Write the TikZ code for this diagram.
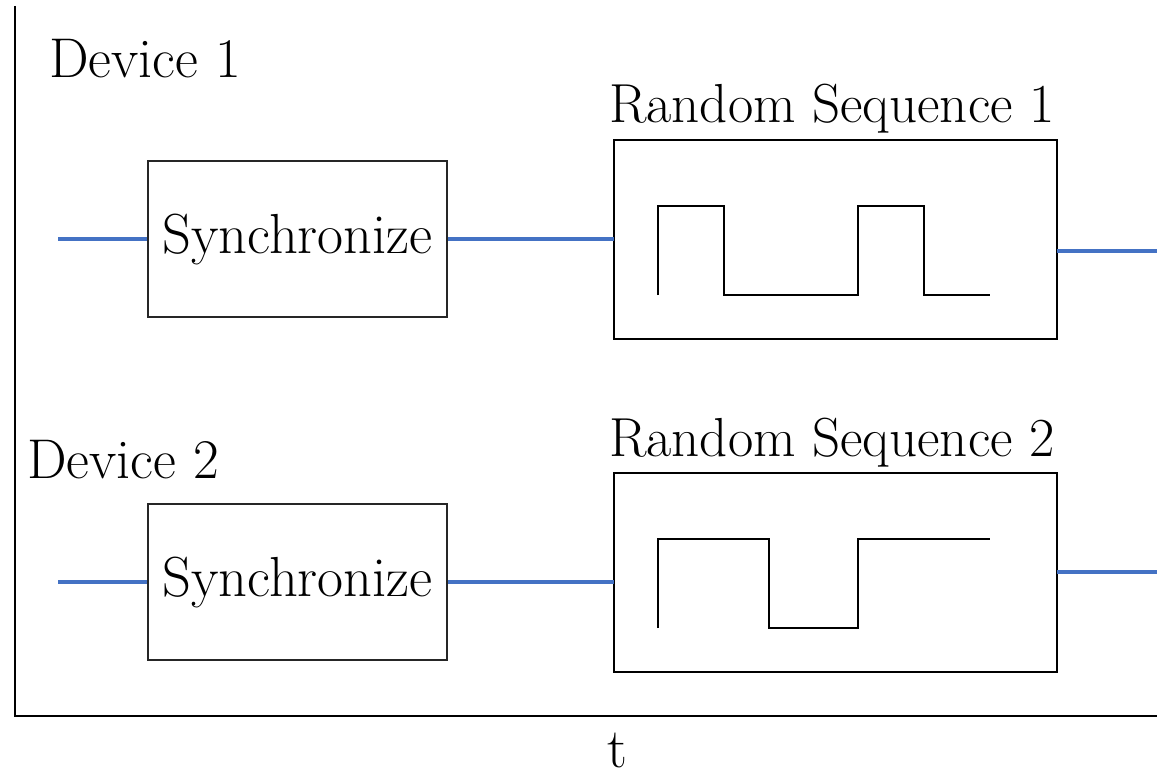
\documentclass[tikz,border=0pt]{standalone}
\usepackage{fontspec}
\begin{document}
\begin{tikzpicture}[x=1pt,y=-1pt,
  lbl/.style={inner sep=0pt,anchor=base west,font=\fontsize{56}{62}\selectfont},
  title/.style={lbl,font=\fontsize{55}{61}\selectfont},
  syncbox/.style={draw=black!85,line width=1.2pt,minimum width=299pt,minimum height=156pt,inner sep=0pt,font=\fontsize{56.5}{62}\selectfont},
  seqbox/.style={draw=black,line width=2pt,minimum width=443pt,minimum height=199pt,inner sep=0pt},
  link/.style={line width=3.4pt,draw={rgb,255:red,68;green,114;blue,196}},
  wave/.style={draw=black,line width=1.8pt},
  axis/.style={draw=black,line width=1.5pt}]
\useasboundingbox (0,0) rectangle (1157,778);

% time axis
\coordinate (ytop) at (15,6);
\coordinate (orig) at (15,716);
\coordinate (xend) at (1157,716);
\draw[axis] (ytop) -- (orig) -- (xend);
\node[lbl] (tlabel) at (607,767) {t};

% device 1
\node[lbl] (dev1) at (49,78) {Device 1};
\node[syncbox] (sync1) at (297.5,239) {Synchronize};
\node[seqbox] (seq1) at (835.5,239.5) {};
\node[title] (title1) at (609,123) {Random Sequence 1};
\coordinate (in1) at (58,239);
\coordinate (mid1) at (614,239);
\coordinate (out1a) at (1057,251);
\coordinate (out1b) at (1157,251);
\draw[link] (in1) -- (sync1.west);
\draw[link] (sync1.east) -- (mid1);
\draw[link] (out1a) -- (out1b);
\draw[wave] (658,295) -- (658,206) -- (724,206) -- (724,295) -- (858,295)
  -- (858,206) -- (924,206) -- (924,295) -- (990,295);

% device 2
\node[lbl] (dev2) at (27,478) {Device 2};
\node[syncbox] (sync2) at (297.5,582) {Synchronize};
\node[seqbox] (seq2) at (835.5,572.5) {};
\node[title] (title2) at (609,456) {Random Sequence 2};
\coordinate (in2) at (58,582);
\coordinate (mid2) at (614,582);
\coordinate (out2a) at (1057,572);
\coordinate (out2b) at (1157,572);
\draw[link] (in2) -- (sync2.west);
\draw[link] (sync2.east) -- (mid2);
\draw[link] (out2a) -- (out2b);
\draw[wave] (658,628) -- (658,539) -- (769,539) -- (769,628) -- (858,628)
  -- (858,539) -- (990,539);
\end{tikzpicture}
\end{document}
